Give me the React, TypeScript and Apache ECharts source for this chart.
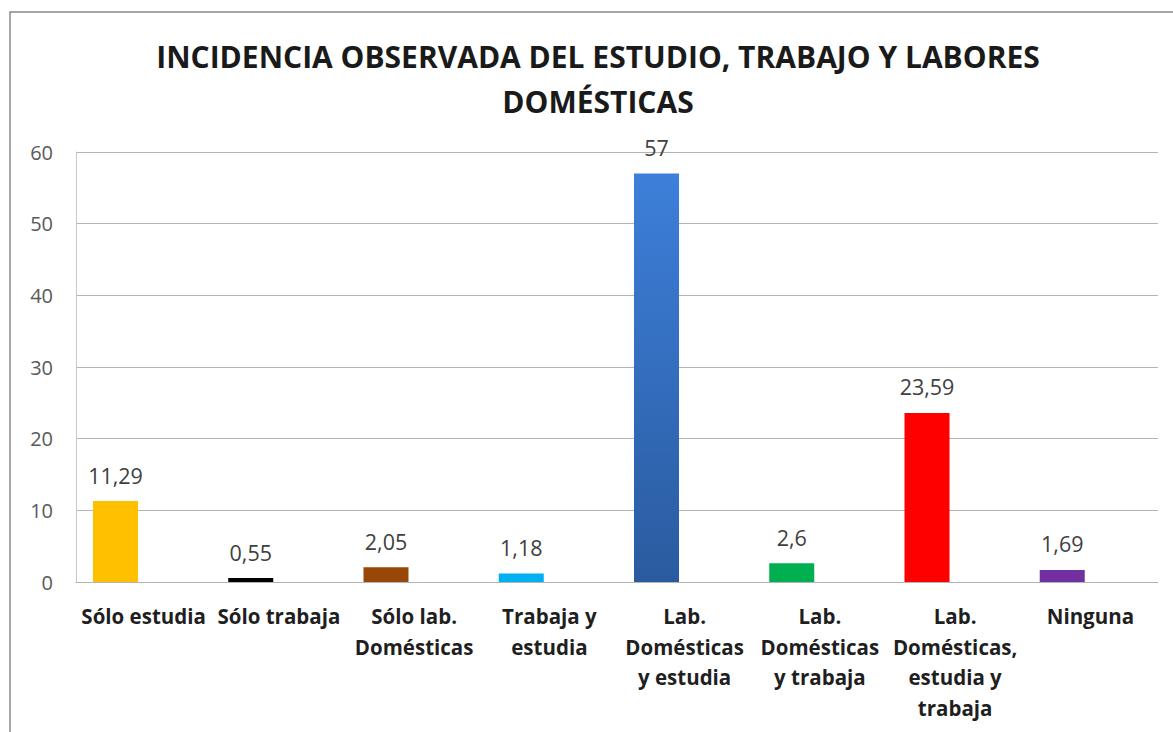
import React, { useEffect, useRef } from "react";
import * as echarts from "echarts";

const titleText = "INCIDENCIA OBSERVADA DEL ESTUDIO, TRABAJO Y LABORES\nDOMÉSTICAS";
const categories = [
  "Sólo estudia",
  "Sólo trabaja",
  "Sólo lab.\nDomésticas",
  "Trabaja y\nestudia",
  "Lab.\nDomésticas\ny estudia",
  "Lab.\nDomésticas\ny trabaja",
  "Lab.\nDomésticas,\nestudia y\ntrabaja",
  "Ninguna",
];
const values = [11.29, 0.55, 2.05, 1.18, 57, 2.6, 23.59, 1.69];
const emptySeries = [null, null, null, null, null, null, null, null];
const barColors: any[] = [
  "#FFC000",
  "#000000",
  "#974806",
  "#00B0F0",
  {
    type: "linear",
    x: 0,
    y: 0,
    x2: 0,
    y2: 1,
    colorStops: [
      { offset: 0, color: "#3D7FDA" },
      { offset: 1, color: "#2A5B9F" },
    ],
  },
  "#00B050",
  "#FF0000",
  "#7030A0",
];
const yTicks = { min: 0, max: 60, interval: 10 };

export default function App() {
  const ref = useRef<HTMLDivElement>(null);
  useEffect(() => {
    if (!ref.current) return;
    const chart = echarts.init(ref.current, null, { renderer: "svg" });
    const font = "'Open Sans', 'Noto Sans', sans-serif";
    chart.setOption({
      animation: false,
      backgroundColor: "#ffffff",
      textStyle: { fontFamily: font },
      title: {
        text: titleText,
        left: 593,
        top: 29,
        textAlign: "center",
        textStyle: {
          fontFamily: font,
          fontSize: 30,
          fontWeight: "bold",
          color: "#1a1a1a",
          lineHeight: 45,
        },
      },
      graphic: [
        {
          type: "rect",
          shape: { x: 10, y: 12, width: 1250, height: 900 },
          style: { fill: "none", stroke: "#8a8a8a", lineWidth: 1.5 },
          silent: true,
        },
      ],
      grid: { left: 76, right: 15, top: 152, bottom: 150, containLabel: false },
      xAxis: {
        type: "category",
        data: categories,
        axisLine: { show: true, lineStyle: { color: "#b3b3b3", width: 1 } },
        axisTick: { show: false },
        axisLabel: {
          interval: 0,
          fontFamily: font,
          fontSize: 20.5,
          fontWeight: "bold",
          color: "#1f1f1f",
          lineHeight: 30.5,
          margin: 19,
        },
      },
      yAxis: {
        type: "value",
        min: yTicks.min,
        max: yTicks.max,
        interval: yTicks.interval,
        axisLine: { show: true, lineStyle: { color: "#c8c8c8", width: 1 } },
        axisTick: { show: false },
        axisLabel: { fontFamily: font, fontSize: 20, color: "#595959", margin: 23 },
        splitLine: { lineStyle: { color: "#b3b3b3", width: 1 } },
      },
      series: [
        {
          type: "bar",
          data: values.map((v, i) => ({ value: v, itemStyle: { color: barColors[i] } })),
          barWidth: 45,
          barGap: "25%",
          label: {
            show: true,
            position: "top",
            distance: 15,
            fontFamily: font,
            fontSize: 21.5,
            color: "#404040",
            formatter: (p: any) => String(p.value).replace(".", ","),
          },
        },
        {
          type: "bar",
          data: emptySeries,
          barWidth: 45,
          barGap: "25%",
        },
      ],
    });
    return () => chart.dispose();
  }, []);
  return (
    <div
      ref={ref}
      style={{ position: "fixed", left: 0, top: 0, width: 1173, height: 732 }}
    />
  );
}
